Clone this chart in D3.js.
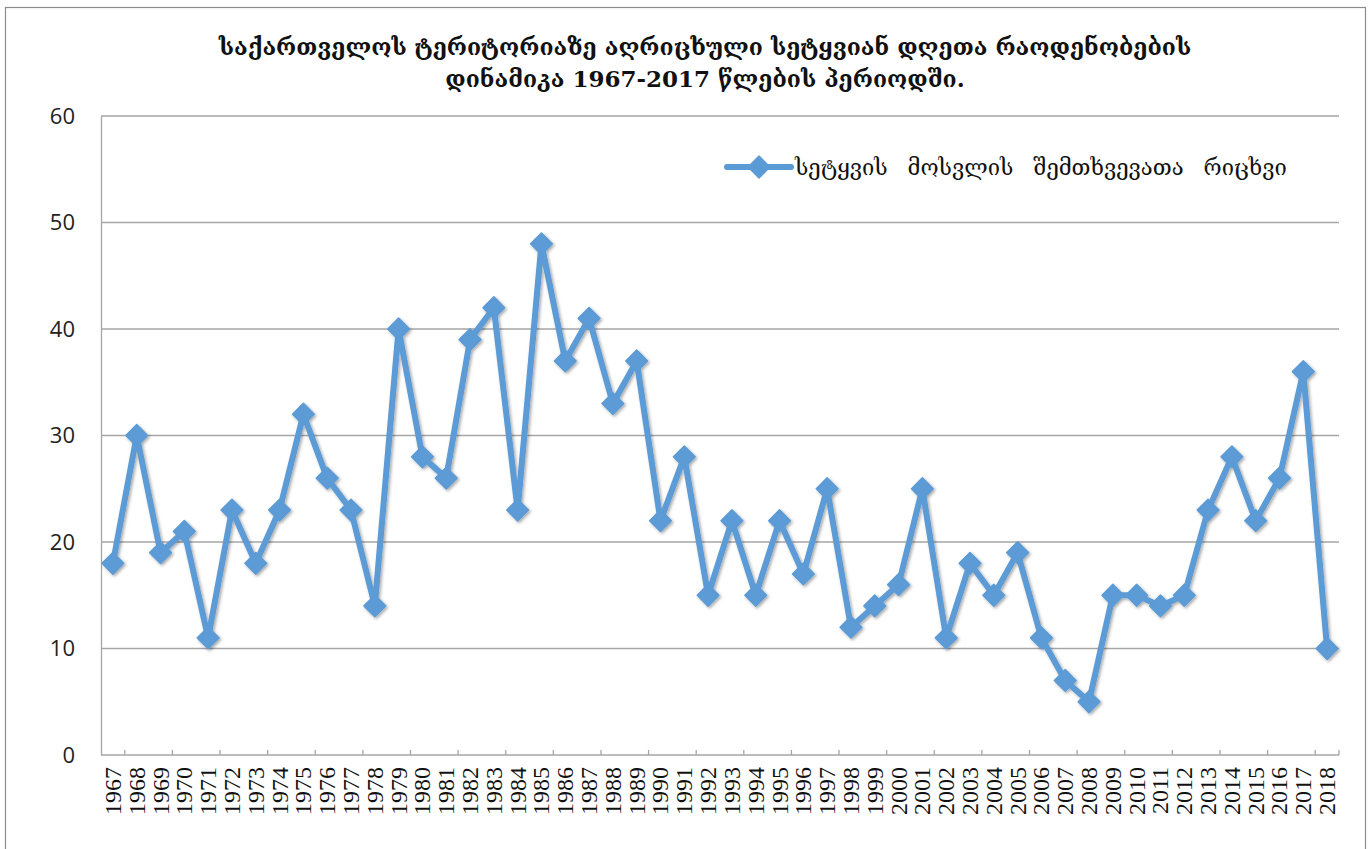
<!DOCTYPE html>
<html>
<head>
<meta charset="utf-8">
<script src="https://cdn.jsdelivr.net/npm/d3@7"></script>
<style>
  body { margin: 0; background: #fff; }
  svg { display: block; }
</style>
</head>
<body>
<div id="graph"></div>
<script>
// data
const years = [1967, 1968, 1969, 1970, 1971, 1972, 1973, 1974, 1975, 1976, 1977, 1978, 1979,
  1980, 1981, 1982, 1983, 1984, 1985, 1986, 1987, 1988, 1989, 1990, 1991, 1992, 1993, 1994,
  1995, 1996, 1997, 1998, 1999, 2000, 2001, 2002, 2003, 2004, 2005, 2006, 2007, 2008, 2009,
  2010, 2011, 2012, 2013, 2014, 2015, 2016, 2017, 2018];
const hailDays = [18, 30, 19, 21, 11, 23, 18, 23, 32, 26, 23, 14, 40,
  28, 26, 39, 42, 23, 48, 37, 41, 33, 37, 22, 28, 15, 22, 15,
  22, 17, 25, 12, 14, 16, 25, 11, 18, 15, 19, 11, 7, 5, 15,
  15, 14, 15, 23, 28, 22, 26, 36, 10];
const yTicks = [0, 10, 20, 30, 40, 50, 60];
const titleLines = ["საქართველოს ტერიტორიაზე აღრიცხული სეტყვიან დღეთა რაოდენობების",
  "დინამიკა 1967-2017 წლების პერიოდში."];
const seriesName = "სეტყვის  მოსვლის  შემთხვევათა  რიცხვი";

const W = 1370, H = 849;
const margin = {top: 116, right: 31, bottom: 94, left: 101};
const blue = "#5b9bd5";

const svg = d3.select("#graph").append("svg").attr("width", W).attr("height", H);

const defs = svg.append("defs");
defs.append("filter").attr("id", "shadow")
  .attr("x", "-20%").attr("y", "-20%").attr("width", "140%").attr("height", "140%")
  .append("feDropShadow")
    .attr("dx", 1.5).attr("dy", 1.5).attr("stdDeviation", 1.5)
    .attr("flood-color", "#000").attr("flood-opacity", 0.35);

// outer chart border
svg.append("rect")
  .attr("x", 5.5).attr("y", 7.5).attr("width", 1360).attr("height", 860)
  .attr("fill", "none").attr("stroke", "#8c8c8c").attr("stroke-width", 1.2);

const x = d3.scaleBand()
  .domain(years)
  .range([margin.left, W - margin.right]);

const y = d3.scaleLinear()
  .domain([0, 60])
  .range([H - margin.bottom, margin.top]);

// gridlines
svg.append("g")
  .selectAll("line")
  .data(yTicks.filter(d => d > 0))
  .join("line")
    .attr("x1", margin.left).attr("x2", W - margin.right)
    .attr("y1", d => y(d)).attr("y2", d => y(d))
    .attr("stroke", "#a6a6a6").attr("stroke-width", 1.3);

// y axis
const yAxis = svg.append("g")
  .attr("transform", `translate(${margin.left},0)`)
  .call(d3.axisLeft(y).tickValues(yTicks).tickSize(0).tickPadding(26));
yAxis.select(".domain").attr("stroke", "#a6a6a6").attr("stroke-width", 1.3);
yAxis.selectAll("text")
  .style("font-family", "'Open Sans', sans-serif")
  .style("font-size", "22px")
  .attr("fill", "#222");

// x axis: ticks every second category boundary, pointing up into the plot
const bw = x.bandwidth();
const xAxis = svg.append("g").attr("transform", `translate(0,${y(0)})`);
xAxis.append("line")
  .attr("x1", margin.left).attr("x2", W - margin.right)
  .attr("stroke", "#a6a6a6").attr("stroke-width", 1.3);
const tickYears = years.filter((d, i) => i % 2 === 0);
xAxis.selectAll("line.tick")
  .data(tickYears)
  .join("line")
    .attr("class", "tick")
    .attr("x1", d => x(d) + bw).attr("x2", d => x(d) + bw)
    .attr("y1", 0).attr("y2", -5)
    .attr("stroke", "#a6a6a6").attr("stroke-width", 1.3);
xAxis.append("line")
  .attr("x1", W - margin.right).attr("x2", W - margin.right)
  .attr("y1", 0).attr("y2", -5)
  .attr("stroke", "#a6a6a6").attr("stroke-width", 1.3);
xAxis.selectAll("text")
  .data(years)
  .join("text")
    .attr("transform", d => `translate(${x(d) + bw / 2},12) rotate(-90)`)
    .attr("text-anchor", "end")
    .attr("dominant-baseline", "central")
    .style("font-family", "'Liberation Serif', serif")
    .style("font-size", "24px")
    .attr("fill", "#111")
    .text(d => d);

// series line + diamond markers
const points = years.map((yr, i) => ({year: yr, value: hailDays[i]}));
const line = d3.line()
  .x(d => x(d.year) + bw / 2)
  .y(d => y(d.value));

const series = svg.append("g").attr("filter", "url(#shadow)");
series.append("path")
  .datum(points)
  .attr("d", line)
  .attr("fill", "none")
  .attr("stroke", blue)
  .attr("stroke-width", 6)
  .attr("stroke-linejoin", "round");

const diamond = d3.symbol().type(d3.symbolDiamond2).size(300);
series.selectAll("path.marker")
  .data(points)
  .join("path")
    .attr("class", "marker")
    .attr("d", diamond)
    .attr("transform", d => `translate(${x(d.year) + bw / 2},${y(d.value)})`)
    .attr("fill", blue)
    .attr("stroke", blue)
    .attr("stroke-width", 1.5)
    .attr("stroke-linejoin", "round");

// legend
const legend = svg.append("g").attr("transform", "translate(727,167)");
legend.append("line")
  .attr("x1", 0).attr("x2", 64)
  .attr("stroke", blue).attr("stroke-width", 6).attr("stroke-linecap", "round");
legend.append("path")
  .attr("d", diamond)
  .attr("transform", "translate(32,0)")
  .attr("fill", blue).attr("stroke", blue).attr("stroke-width", 1.5).attr("stroke-linejoin", "round");
legend.append("text")
  .attr("x", 68).attr("y", 0)
  .attr("dominant-baseline", "central")
  .style("font-family", "'DejaVu Serif', serif")
  .style("font-size", "22px")
  .style("white-space", "pre")
  .style("word-spacing", "3px")
  .attr("fill", "#111")
  .text(seriesName);

// title
svg.append("g")
  .selectAll("text")
  .data(titleLines)
  .join("text")
    .attr("x", 705)
    .attr("y", (d, i) => 55 + i * 32)
    .attr("text-anchor", "middle")
    .style("font-family", "'DejaVu Serif', serif")
    .style("font-size", "23px")
    .style("font-weight", "bold")
    .attr("fill", "#111")
    .text(d => d);
</script>
</body>
</html>
